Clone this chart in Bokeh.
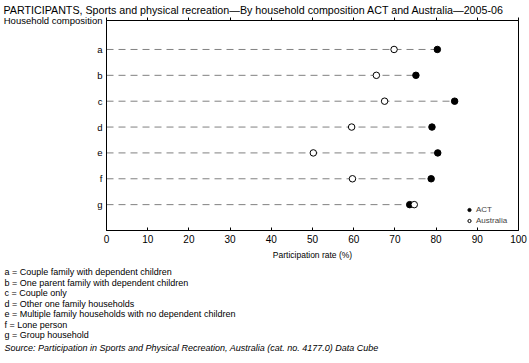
from bokeh.plotting import figure
from bokeh.models import Range1d, FixedTicker, LinearAxis, Legend, LegendItem, ColumnDataSource, Title
from bokeh.embed import file_html
from bokeh.resources import INLINE

# ---- data ----
codes = ["a", "b", "c", "d", "e", "f", "g"]
act = [80.3, 75.1, 84.5, 79.0, 80.4, 78.8, 73.6]
australia = [69.8, 65.5, 67.5, 59.5, 50.2, 59.7, 74.7]
descriptions = [
    "a = Couple family with dependent children",
    "b = One parent family with dependent children",
    "c = Couple only",
    "d = Other one family households",
    "e = Multiple family households with no dependent children",
    "f  = Lone person",
    "g = Group household",
]
x_ticks = [0, 10, 20, 30, 40, 50, 60, 70, 80, 90, 100]
title_text = "PARTICIPANTS, Sports and physical recreation\u2014By household composition ACT and Australia\u20142005-06"
y_title = "Household composition"
x_title = "Participation rate (%)"
source_text = "Source: Participation in Sports and Physical Recreation, Australia (cat. no. 4177.0) Data Cube"

FONT = "Liberation Sans"
W, H = 529, 363
FL, FR, FT, FB = 105, 11, 20, 133   # frame borders

n = len(codes)
ypos = [n - i for i in range(n)]
y_top = n + 1.12
line_end = [max(a, b) for a, b in zip(act, australia)]
src = ColumnDataSource(dict(y=ypos, act=act, aus=australia, x0=[0] * n, x1=line_end))

p = figure(width=W, height=H, output_backend="svg", toolbar_location=None,
           x_range=Range1d(0, 100), y_range=Range1d(0, y_top),
           min_border_left=FL, min_border_right=FR, min_border_top=FT, min_border_bottom=FB,
           x_axis_location=None, y_axis_location=None)
p.background_fill_color = "white"
p.border_fill_color = "white"
p.outline_line_color = "black"
p.outline_line_width = 1
p.xgrid.visible = False
p.ygrid.visible = False

# main title
p.title = Title(text=title_text, text_font=FONT, text_font_size="10.7px",
                text_font_style="normal", text_color="black", align="left",
                offset=-103, standoff=3)

# bottom axis
xb = LinearAxis(ticker=FixedTicker(ticks=x_ticks))
xb.major_tick_in = 3
xb.major_tick_out = 0
xb.minor_tick_line_color = None
xb.axis_line_color = "black"
xb.major_label_text_font = FONT
xb.major_label_text_font_size = "10px"
xb.major_label_text_color = "black"
xb.major_label_standoff = 4
xb.axis_label = x_title
xb.axis_label_text_font = FONT
xb.axis_label_text_font_size = "8.5px"
xb.axis_label_text_font_style = "normal"
xb.axis_label_text_color = "black"
xb.axis_label_standoff = 4
p.add_layout(xb, "below")

# top axis (ticks only)
xt = LinearAxis(ticker=FixedTicker(ticks=x_ticks))
xt.major_tick_in = 0
xt.major_tick_out = 3
xt.minor_tick_line_color = None
xt.axis_line_color = "black"
xt.major_label_text_font_size = "0px"
xt.major_label_text_color = None
xt.major_label_standoff = 0
p.add_layout(xt, "above")

# left axis with category codes, plus the axis heading at the top
yl = LinearAxis(ticker=FixedTicker(ticks=ypos + [y_top]))
overrides = {y: c for y, c in zip(ypos, codes)}
overrides[y_top] = y_title
yl.major_label_overrides = overrides
yl.major_tick_in = 0
yl.major_tick_out = 0
yl.minor_tick_line_color = None
yl.axis_line_color = "black"
yl.major_label_text_font = FONT
yl.major_label_text_font_size = "9.5px"
yl.major_label_text_color = "black"
yl.major_label_standoff = 4
p.add_layout(yl, "left")

p.segment(x0="x0", x1="x1", y0="y", y1="y", source=src, line_color="#808080",
          line_width=1, line_dash="7 5")
r_act = p.scatter(x="act", y="y", source=src, marker="circle", size=6.5,
                  fill_color="black", line_color="black")
r_aus = p.scatter(x="aus", y="y", source=src, marker="circle", size=6.5,
                  fill_color="white", line_color="black", line_width=1)

legend = Legend(items=[LegendItem(label="ACT", renderers=[r_act]),
                       LegendItem(label="Australia", renderers=[r_aus])],
                location=(359, 5), glyph_width=8, glyph_height=9, label_height=9,
                label_text_font=FONT, label_text_font_size="8px", label_standoff=3,
                padding=0, spacing=2, margin=0, border_line_color=None,
                background_fill_alpha=0)
p.add_layout(legend)

# footnotes below the x axis
p.add_layout(Title(text="\n".join(descriptions), text_font=FONT, text_font_size="9px",
                   text_font_style="normal", text_color="black", align="left",
                   offset=-102, standoff=5, text_line_height=1.05), "below")
p.add_layout(Title(text=source_text, text_font=FONT, text_font_size="9px",
                   text_font_style="italic", text_color="black", align="left",
                   offset=-102, standoff=-3), "below")

open("out.html", "w").write(file_html(p, INLINE))
